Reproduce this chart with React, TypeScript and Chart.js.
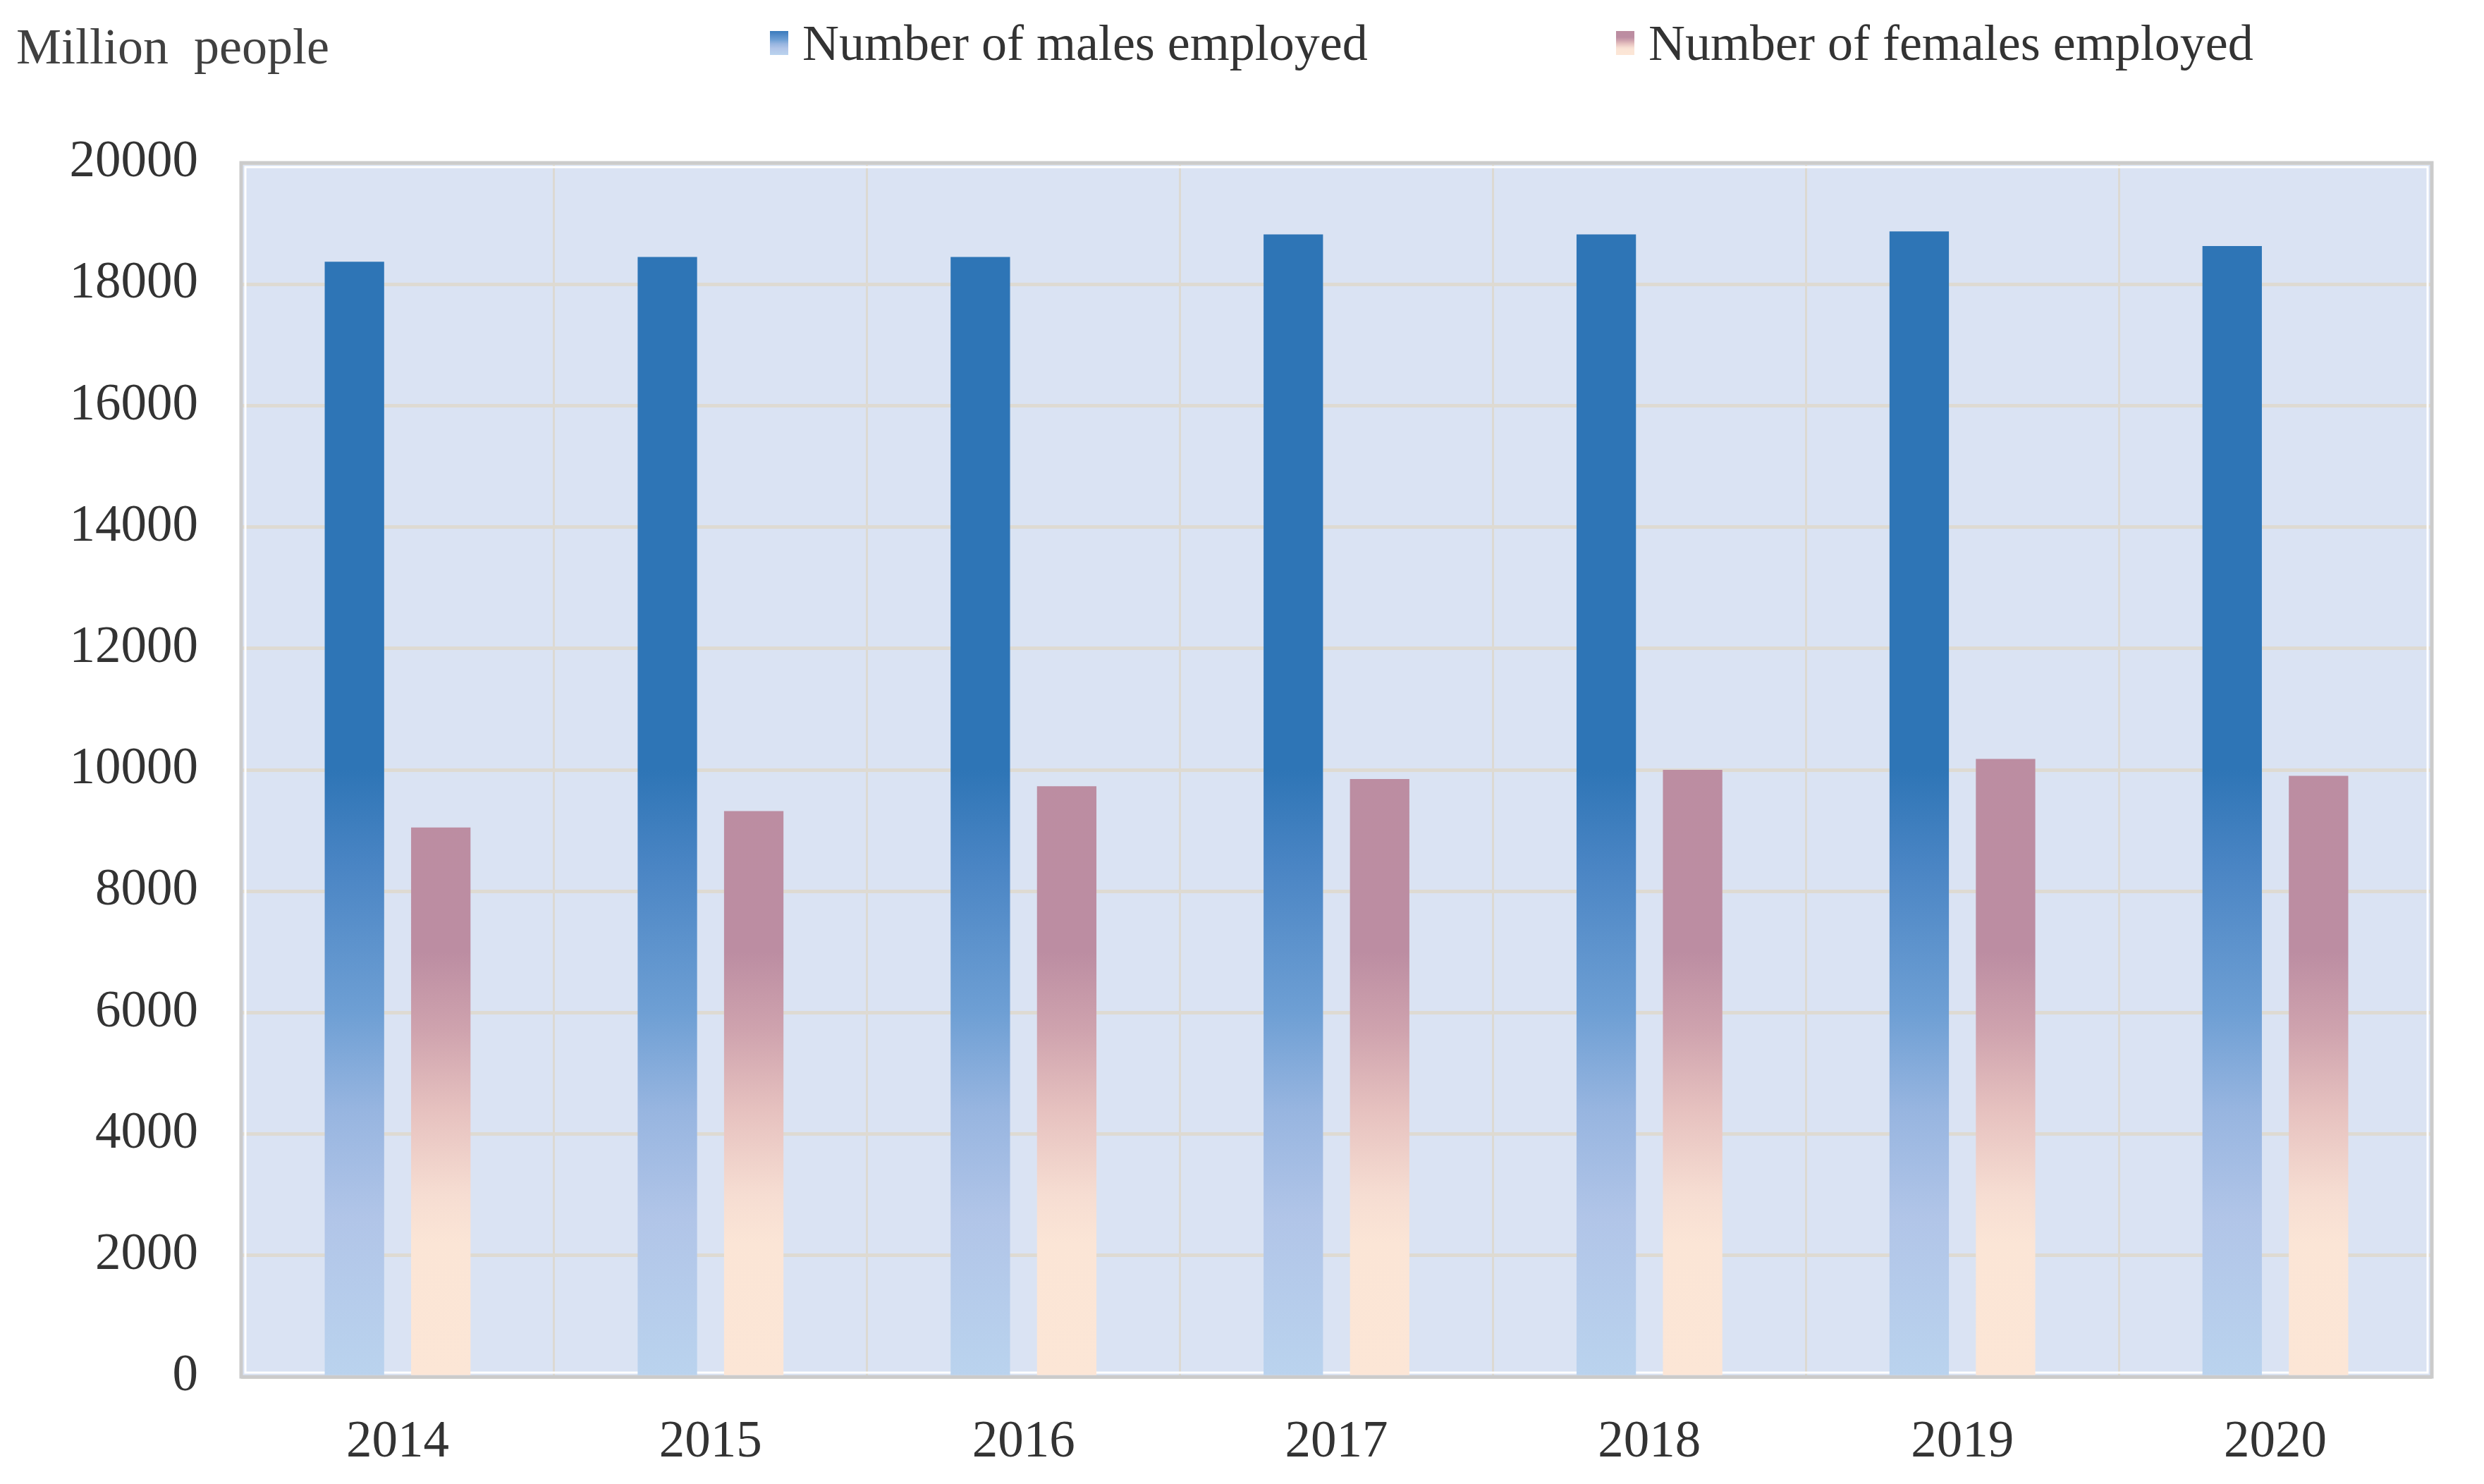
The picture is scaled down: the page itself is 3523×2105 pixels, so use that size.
import { useEffect, useRef } from 'react';
import { Chart, registerables } from 'chart.js';

Chart.register(...registerables);

const years = ['2014', '2015', '2016', '2017', '2018', '2019', '2020'];
const malesEmployed = [18370, 18450, 18450, 18820, 18820, 18870, 18630];
const femalesEmployed = [9050, 9320, 9730, 9850, 10000, 10180, 9900];
const yTicks = [0, 2000, 4000, 6000, 8000, 10000, 12000, 14000, 16000, 18000, 20000];
const unitLabel = 'Million  people';

const FONT = '"Liberation Serif", "Times New Roman", serif';
const Y_MAX = 20000;

// colour stops by fraction of the value axis (0 = bottom, 1 = 20000)
const maleStops: [number, string][] = [
  [0, '#BAD3EE'],
  [0.13, '#B1C5E8'],
  [0.22, '#97B5E0'],
  [0.3, '#6E9FD4'],
  [0.42, '#4A85C4'],
  [0.5, '#2E75B6'],
  [1, '#2E75B6'],
];
const femaleStops: [number, string][] = [
  [0, '#FCE6D6'],
  [0.11, '#FBE5D6'],
  [0.15, '#F6DDD2'],
  [0.22, '#E6C1BF'],
  [0.285, '#CFA3AE'],
  [0.35, '#BC8DA2'],
  [1, '#BC8DA0'],
];

function axisGradient(chart: Chart, stops: [number, string][], fallback: string) {
  const y = chart.scales.y;
  if (!chart.chartArea || !y) return fallback;
  const g = chart.ctx.createLinearGradient(0, y.getPixelForValue(0), 0, y.getPixelForValue(Y_MAX));
  stops.forEach(([f, c]) => g.addColorStop(f, c));
  return g;
}

const plotFrame = {
  id: 'plotFrame',
  beforeDraw(chart: Chart) {
    const { ctx, chartArea } = chart;
    const { left, top, right, bottom } = chartArea;
    ctx.save();
    ctx.fillStyle = '#FFFFFF';
    ctx.fillRect(0, 0, chart.width, chart.height);
    ctx.fillStyle = '#DAE3F3';
    ctx.fillRect(left, top, right - left, bottom - top);
    ctx.restore();
  },
  beforeDatasetsDraw(chart: Chart) {
    const { ctx, chartArea } = chart;
    const { left, top, right, bottom } = chartArea;
    ctx.save();
    ctx.strokeStyle = '#FFFFFF';
    ctx.lineWidth = 3;
    ctx.strokeRect(left + 6, top + 6, right - left - 12, bottom - top - 12);
    ctx.strokeStyle = '#CBCBCB';
    ctx.lineWidth = 5;
    ctx.strokeRect(left, top, right - left, bottom - top);
    ctx.restore();
  },
  afterDraw(chart: Chart) {
    const { ctx } = chart;
    ctx.save();
    ctx.font = `72px ${FONT}`;
    ctx.fillStyle = '#404040';
    ctx.textBaseline = 'alphabetic';
    ctx.textAlign = 'left';
    ctx.fillText(unitLabel, 23, 90);

    const items = [
      { x: 1092, stops: maleStops },
      { x: 2292, stops: femaleStops },
    ];
    items.forEach((item, i) => {
      const g = ctx.createLinearGradient(0, 78, 0, 42);
      item.stops.forEach(([f, c]) => g.addColorStop(Math.min(1, f * 2), c));
      ctx.fillStyle = g;
      ctx.fillRect(item.x, 44, 26, 34);
      ctx.fillStyle = '#333333';
      ctx.fillText(String(chart.data.datasets[i].label), item.x + 46, 85);
    });
    ctx.restore();
  },
};

export default function App() {
  const canvasRef = useRef<HTMLCanvasElement>(null);
  const chartRef = useRef<Chart | null>(null);

  useEffect(() => {
    document.body.style.margin = '0';
    if (!canvasRef.current) return;
    if (chartRef.current) chartRef.current.destroy();

    chartRef.current = new Chart(canvasRef.current, {
      type: 'bar',
      data: {
        labels: years,
        datasets: [
          {
            label: 'Number of males employed',
            data: malesEmployed,
            backgroundColor: (c: any) => axisGradient(c.chart, maleStops, '#2E75B6'),
            categoryPercentage: 0.552,
            barPercentage: 0.688,
          },
          {
            label: 'Number of females employed',
            data: femalesEmployed,
            backgroundColor: (c: any) => axisGradient(c.chart, femaleStops, '#BC8DA0'),
            categoryPercentage: 0.552,
            barPercentage: 0.688,
          },
        ],
      },
      options: {
        animation: false,
        responsive: false,
        devicePixelRatio: 1,
        layout: { padding: { top: 231, right: 74, left: 0, bottom: 0 } },
        plugins: {
          legend: { display: false },
          title: { display: false },
          tooltip: { enabled: false },
        },
        scales: {
          x: {
            afterFit: (scale: any) => {
              scale.height = 152;
            },
            grid: {
              display: true,
              offset: true,
              color: '#DCD9D2',
              lineWidth: 3,
              drawTicks: false,
            },
            border: { display: false },
            ticks: {
              color: '#333333',
              padding: 50,
              font: { family: FONT, size: 73 },
            },
          },
          y: {
            min: 0,
            max: Y_MAX,
            afterFit: (scale: any) => {
              scale.width = 342;
            },
            afterBuildTicks: (scale: any) => {
              scale.ticks = yTicks.map((v) => ({ value: v }));
            },
            grid: {
              color: '#DEDAD2',
              lineWidth: 5,
              drawTicks: false,
            },
            border: { display: false },
            ticks: {
              color: '#333333',
              padding: 61,
              font: { family: FONT, size: 73 },
              callback: (value: any) => String(value),
            },
          },
        },
      },
      plugins: [plotFrame],
    });

    return () => {
      if (chartRef.current) {
        chartRef.current.destroy();
        chartRef.current = null;
      }
    };
  }, []);

  return (
    <div style={{ position: 'absolute', left: 0, top: 0, width: 3523, height: 2105, background: '#fff' }}>
      <canvas ref={canvasRef} width={3523} height={2105} />
    </div>
  );
}
